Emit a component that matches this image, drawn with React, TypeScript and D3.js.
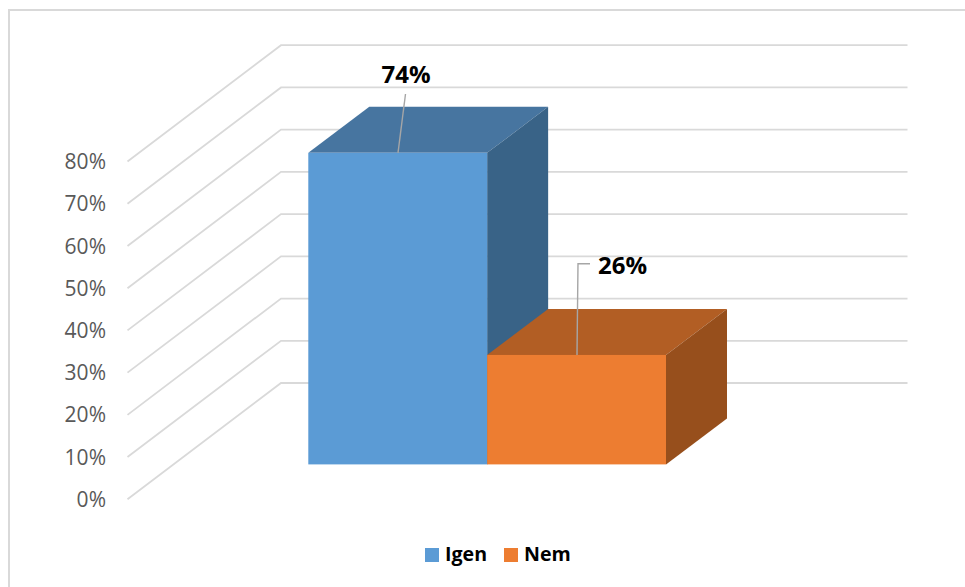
import React from "react";
import * as d3 from "d3";

const categories = ["Igen", "Nem"];
const shares = [74, 26];
const axisTicks = [0, 10, 20, 30, 40, 50, 60, 70, 80];
const faceColors = ["#5B9BD5", "#ED7D31"];
const topColors = ["#4775A0", "#B25E24"];
const sideColors = ["#396387", "#974F1C"];

const WIDTH = 965;
const HEIGHT = 587;
const FONT = "'Open Sans', sans-serif";
const GRID = "#D9D9D9";
const LEADER = "#A6A6A6";

// Front plane of the axis and its receding offset to the back wall
const y = d3.scaleLinear().domain([0, 80]).range([499.3, 161.5]);
const wallDx = 153.5;
const wallDy = -116.3;
const frontX = 127.5;
const wallRight = 907.5;

// Bars stand on a floor line set partway into the depth of the chart
const barY = d3.scaleLinear().domain([0, 80]).range([464.4, 127.6]);
const band = d3.scaleBand<string>().domain(categories).range([308.3, 666]);
const barDx = 61;
const barDy = -46;

const poly = d3.line<[number, number]>();

export default function App() {
  const bw = band.bandwidth();
  return (
    <svg
      width={WIDTH}
      height={HEIGHT}
      viewBox={`0 0 ${WIDTH} ${HEIGHT}`}
      style={{ position: "absolute", left: 0, top: 0, background: "#fff" }}
    >
      <path d={`M9,${HEIGHT}V10H${WIDTH}`} fill="none" stroke={GRID} strokeWidth={2} />

      {axisTicks.map((t) => (
        <g key={t}>
          <path
            d={poly([
              [frontX, y(t)],
              [frontX + wallDx, y(t) + wallDy],
              [wallRight, y(t) + wallDy],
            ]) as string}
            fill="none"
            stroke={GRID}
            strokeWidth={1.8}
          />
          <text
            x={106}
            y={y(t)}
            dy="0.36em"
            textAnchor="end"
            fontFamily={FONT}
            fontSize={21}
            fill="#595959"
          >
            {t}%
          </text>
        </g>
      ))}

      {categories.map((c, i) => {
        const x0 = band(c) as number;
        const x1 = x0 + bw;
        const top = barY(shares[i]);
        const base = barY(0);
        return (
          <g key={c}>
            <path
              d={(poly([
                [x0, top],
                [x0 + barDx, top + barDy],
                [x1 + barDx, top + barDy],
                [x1, top],
              ]) as string) + "Z"}
              fill={topColors[i]}
            />
            <path
              d={(poly([
                [x1, top],
                [x1 + barDx, top + barDy],
                [x1 + barDx, base + barDy],
                [x1, base],
              ]) as string) + "Z"}
              fill={sideColors[i]}
            />
            <rect x={x0} y={top} width={bw} height={base - top} fill={faceColors[i]} />
          </g>
        );
      })}

      {/* Leader lines from the value labels down to the bars */}
      <path
        d={poly([
          [405.5, 94],
          [398, barY(shares[0])],
        ]) as string}
        fill="none"
        stroke={LEADER}
        strokeWidth={1.4}
      />
      <path
        d={poly([
          [590, 263.7],
          [578, 263.7],
          [577, barY(shares[1])],
        ]) as string}
        fill="none"
        stroke={LEADER}
        strokeWidth={1.4}
      />

      <text x={406} y={82.7} textAnchor="middle" fontFamily={FONT} fontWeight={700} fontSize={24} fill="#000">
        {shares[0]}%
      </text>
      <text x={622.5} y={274} textAnchor="middle" fontFamily={FONT} fontWeight={700} fontSize={24} fill="#000">
        {shares[1]}%
      </text>

      {categories.map((c, i) => {
        const lx = [425, 504][i];
        return (
          <g key={c}>
            <rect x={lx} y={548} width={14} height={14} fill={faceColors[i]} />
            <text x={lx + 20} y={561} fontFamily={FONT} fontWeight={700} fontSize={19.6} fill="#000">
              {c}
            </text>
          </g>
        );
      })}
    </svg>
  );
}
